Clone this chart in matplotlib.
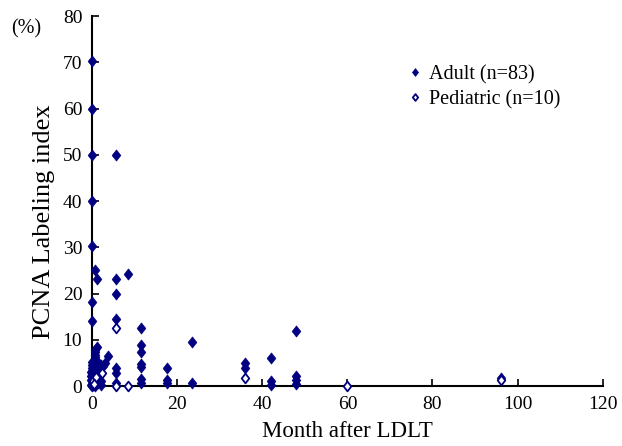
import matplotlib
matplotlib.use("Agg")
import matplotlib.pyplot as plt
from matplotlib.path import Path

# Adult (n=83) - month after LDLT, PCNA labeling index (%)
adult_month = [0, 0, 0, 0, 0, 0, 0,
               0.7, 0.7, 1.2, 1.2, 2.5, 3.0, 3.8,
               5.6, 5.6, 5.6, 5.6, 5.6, 5.6, 5.6,
               8.5,
               11.5, 11.5, 11.5, 11.5, 11.5, 11.5, 11.5,
               17.5, 17.5, 17.5,
               23.6, 23.6,
               36, 36,
               42, 42, 42,
               48, 48, 48, 48,
               96,
               # dense cluster near zero
               0, 0, 0, 0, 0, 0, 0, 0, 0, 0,
               0.3, 0.3, 0.3, 0.3, 0.3, 0.3,
               0.6, 0.6, 0.6, 0.6, 0.6, 0.6,
               1.0, 1.0, 1.0, 1.0, 1.0,
               1.5, 1.5, 1.5, 1.5,
               -0.3, -0.3, -0.3, -0.3,
               2.0, 2.0, 2.0, 0.8]
adult_pcna = [70.3, 60, 50, 40, 30.2, 18.2, 14,
              25, 7.4, 23.2, 8.5, 4.4, 4.9, 6.5,
              50, 23.2, 19.8, 14.5, 4.0, 2.9, 0.7,
              24.2,
              12.6, 8.9, 7.3, 4.8, 4.2, 1.6, 0.7,
              3.8, 1.4, 0.7,
              9.6, 0.6,
              4.9, 4.0,
              6.1, 1.0, 0.2,
              11.8, 2.2, 1.4, 0.5,
              1.8,
              0.0, 0.5, 1.0, 1.5, 2.0, 2.6, 3.2, 3.8, 4.5, 5.2,
              0.2, 0.8, 1.6, 2.4, 3.4, 4.3,
              0.1, 1.2, 2.1, 3.0, 6.3, 7.8,
              0.4, 1.8, 2.8, 4.0, 5.6,
              0.6, 2.5, 3.6, 5.0,
              0.3, 1.4, 2.2, 3.0,
              0.2, 1.1, 4.6, 6.8]

# Pediatric (n=10)
ped_month = [5.6, 2.4, 5.6, 8.5, 36, 60, 96, 0.2, 1.0, 0.5]
ped_pcna = [12.6, 2.9, 0.0, 0.0, 1.8, 0.0, 1.4, 1.0, 2.0, 0.5]

x_ticks = [0, 20, 40, 60, 80, 100, 120]
y_ticks = [0, 10, 20, 30, 40, 50, 60, 70, 80]

plt.rcParams['font.family'] = ['Liberation Serif', 'DejaVu Serif']

diamond = Path([(0, 1), (0.78, 0), (0, -1), (-0.78, 0), (0, 1)],
               [Path.MOVETO, Path.LINETO, Path.LINETO, Path.LINETO, Path.CLOSEPOLY])

fig = plt.figure(figsize=(6.22, 4.46), dpi=100)
ax = fig.add_axes([0.148, 0.1345, 0.821, 0.8295])

navy = '#000080'
ax.plot(adult_month, adult_pcna, linestyle='none', marker=diamond, markersize=8,
        markerfacecolor=navy, markeredgecolor=navy, markeredgewidth=0.5,
        clip_on=False, zorder=3, label='Adult (n=83)')
ax.plot(ped_month, ped_pcna, linestyle='none', marker=diamond, markersize=7,
        markerfacecolor='white', markeredgecolor=navy, markeredgewidth=1.3,
        clip_on=False, zorder=4, label='Pediatric (n=10)')

ax.set_xlim(0, 120)
ax.set_ylim(0, 80)
ax.set_xticks(x_ticks)
ax.set_yticks(y_ticks)
ax.tick_params(direction='in', length=5, width=1.2, labelsize=14, pad=7)
for s in ['top', 'right']:
    ax.spines[s].set_visible(False)
for s in ['left', 'bottom']:
    ax.spines[s].set_linewidth(1.5)

ax.set_xlabel('Month after LDLT', fontsize=16.5, labelpad=6)
ax.set_ylabel('PCNA Labeling index', fontsize=19)
ax.yaxis.set_label_coords(-0.072, 0.445)
fig.text(0.018, 0.935, '(%)', fontsize=14.5, ha='left', va='center')

leg = ax.legend(loc='upper left', bbox_to_anchor=(0.6, 0.89), frameon=False,
                fontsize=14.5, handletextpad=0.3, labelspacing=0.3,
                handlelength=0.8, borderaxespad=0, markerscale=0.7)

fig.savefig('out.png', dpi=100)
